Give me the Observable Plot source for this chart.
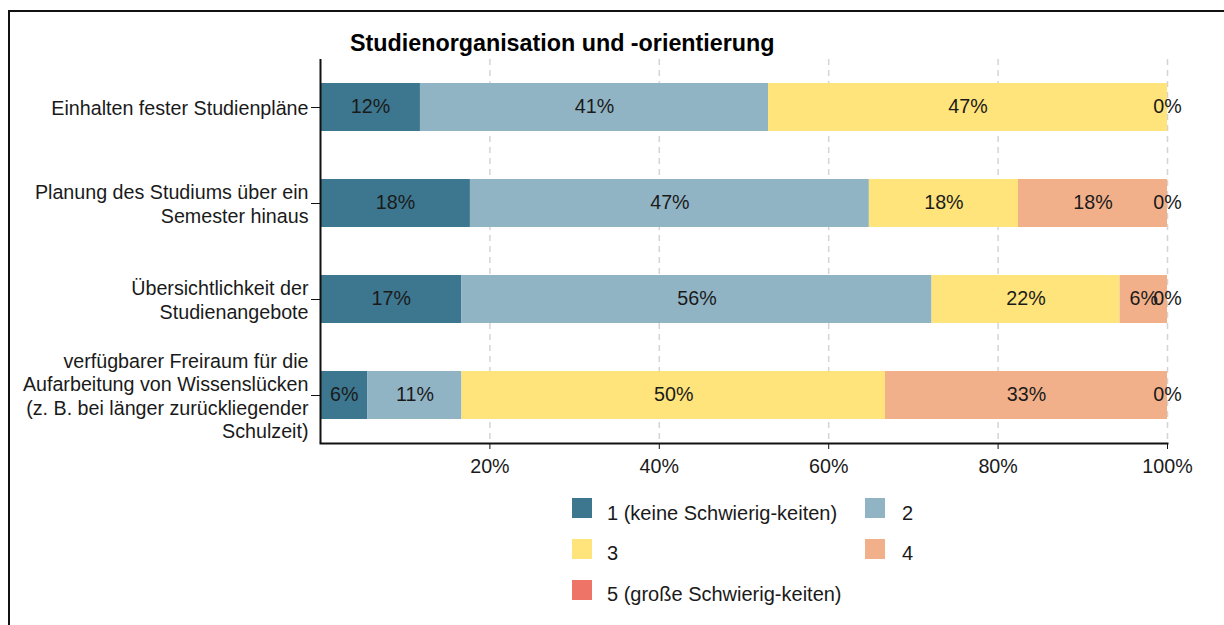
<!DOCTYPE html>
<html>
<head>
<meta charset="utf-8">
<script src="https://cdn.jsdelivr.net/npm/d3@7"></script>
<script src="https://cdn.jsdelivr.net/npm/@observablehq/plot@0.6"></script>
<style>
  html, body { margin: 0; padding: 0; background: #fff; }
  body { width: 1224px; height: 625px; overflow: hidden; position: relative; font-family: "Liberation Sans", Arial, sans-serif; color: #1a1a1a; }
  #frame { position: absolute; left: 8px; top: 10px; width: 1230px; height: 640px; border-top: 2px solid #111; border-left: 2px solid #111; }
  #title { position: absolute; left: 350px; top: 32px; font-size: 23.3px; font-weight: bold; line-height: 23px; color: #000; white-space: nowrap; }
  #chart { position: absolute; left: 0; top: 0; }
  .lg-sw { position: absolute; width: 20px; height: 20px; }
  .lg-tx { position: absolute; font-size: 20px; line-height: 20px; white-space: nowrap; }
</style>
</head>
<body>
<div id="frame"></div>
<div id="chart"></div>
<div id="title">Studienorganisation und -orientierung</div>
<div id="legend"></div>
<script>
const items = [
  "Einhalten fester Studienpläne",
  "Planung des Studiums über ein\nSemester hinaus",
  "Übersichtlichkeit der\nStudienangebote",
  "verfügbarer Freiraum für die\nAufarbeitung von Wissenslücken\n(z. B. bei länger zurückliegender\nSchulzeit)"
];
const levels = ["1 (keine Schwierig-keiten)", "2", "3", "4", "5 (große Schwierig-keiten)"];
const level1 = [11.8, 17.7, 16.7, 5.6];
const level2 = [41.1, 47.1, 55.5, 11.1];
const level3 = [47.1, 17.6, 22.2, 50.0];
const level4 = [null, 17.6, 5.6, 33.3];
const level5 = [0, 0, 0, 0];
const colors = ["#3d768f", "#91b4c5", "#fee47a", "#f2b08a", "#ef7468"];
const xTicks = [20, 40, 60, 80, 100];

const series = [level1, level2, level3, level4, level5];
const rows = [];
items.forEach((item, i) => {
  levels.forEach((lv, j) => {
    const v = series[j][i];
    if (v != null) rows.push({item, level: lv, value: v});
  });
});

const chart = Plot.plot({
  width: 1224,
  height: 480,
  marginLeft: 320,
  marginRight: 57,
  marginTop: 59,
  marginBottom: 37,
  style: {fontFamily: "'Liberation Sans', Arial, sans-serif", fontSize: "19.7px", color: "#1a1a1a", background: "transparent"},
  x: {domain: [0, 100], ticks: xTicks},
  y: {domain: items, paddingInner: 0.5, paddingOuter: 0.25},
  color: {domain: levels, range: colors},
  marks: [
    Plot.ruleX(xTicks, {stroke: "#d4d4d4", strokeWidth: 1.5, strokeDasharray: "6,5"}),
    Plot.barX(rows, Plot.stackX({x: "value", y: "item", z: "level", fill: "level"})),
    Plot.text(rows, Plot.stackX({x: "value", y: "item", z: "level", text: d => Math.round(d.value) + "%", fill: "#1a1a1a", fontSize: 19.7, dy: -1})),
    Plot.axisX({ticks: xTicks, tickFormat: d => d + "%", tickSize: 6, tickPadding: 9, fontSize: 19.7, stroke: "#111", label: null}),
    Plot.axisY({tickSize: 9, tickPadding: 3, fontSize: 19.7, lineHeight: 1.18, stroke: "#111", label: null}),
    Plot.ruleX([0], {stroke: "#111", strokeWidth: 2}),
    Plot.frame({anchor: "bottom", stroke: "#111", strokeWidth: 2})
  ]
});
document.getElementById("chart").appendChild(chart);

// legend
const legendPos = [
  {sx: 572, sy: 498, tx: 607, ty: 503},
  {sx: 865, sy: 498, tx: 902, ty: 503},
  {sx: 572, sy: 539, tx: 607, ty: 543},
  {sx: 865, sy: 539, tx: 902, ty: 543},
  {sx: 572, sy: 580, tx: 607, ty: 584}
];
const lg = document.getElementById("legend");
levels.forEach((lv, i) => {
  const p = legendPos[i];
  const sw = document.createElement("div");
  sw.className = "lg-sw";
  sw.style.left = p.sx + "px"; sw.style.top = p.sy + "px"; sw.style.background = colors[i];
  const tx = document.createElement("div");
  tx.className = "lg-tx";
  tx.style.left = p.tx + "px"; tx.style.top = p.ty + "px";
  tx.textContent = lv;
  lg.appendChild(sw); lg.appendChild(tx);
});
</script>
</body>
</html>
